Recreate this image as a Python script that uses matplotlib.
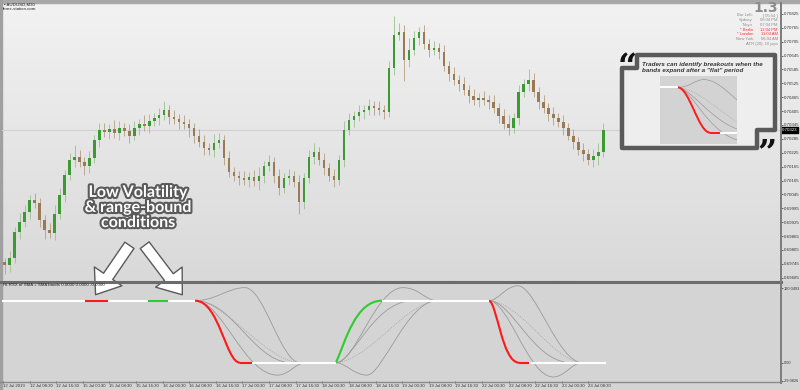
import matplotlib.pyplot as plt
import matplotlib.patheffects as pe
from matplotlib.colors import LinearSegmentedColormap
from matplotlib.path import Path
from matplotlib.patches import PathPatch, Rectangle, Polygon, FancyArrowPatch
import numpy as np

W, H = 800, 390

# AUDUSD M30 closes, one candle per 3 bars
closes = [0.69740, 0.69770, 0.69883, 0.69926, 0.69969, 0.70021, 0.70008, 0.69935, 0.69891, 0.69878,
          0.69961, 0.70043, 0.70129, 0.70194, 0.70207, 0.70185, 0.70168, 0.70202, 0.70280, 0.70323,
          0.70315, 0.70328, 0.70310, 0.70332, 0.70319, 0.70298, 0.70332, 0.70349, 0.70341, 0.70362,
          0.70375, 0.70388, 0.70410, 0.70380, 0.70371, 0.70358, 0.70349, 0.70332, 0.70298, 0.70272,
          0.70246, 0.70237, 0.70267, 0.70280, 0.70202, 0.70142, 0.70125, 0.70116, 0.70107, 0.70120,
          0.70103, 0.70125, 0.70168, 0.70185, 0.70125, 0.70073, 0.70116, 0.70125, 0.70099, 0.70012,
          0.70116, 0.70207, 0.70228, 0.70194, 0.70159, 0.70125, 0.70107, 0.70194, 0.70323, 0.70367,
          0.70384, 0.70401, 0.70410, 0.70427, 0.70418, 0.70410, 0.70401, 0.70591, 0.70734, 0.70747,
          0.70626, 0.70669, 0.70721, 0.70747, 0.70695, 0.70669, 0.70678, 0.70660, 0.70600, 0.70565,
          0.70539, 0.70522, 0.70496, 0.70470, 0.70453, 0.70462, 0.70453, 0.70444, 0.70418, 0.70384,
          0.70349, 0.70332, 0.70375, 0.70488, 0.70522, 0.70539, 0.70488, 0.70444, 0.70418, 0.70393,
          0.70375, 0.70358, 0.70332, 0.70298, 0.70272, 0.70237, 0.70220, 0.70194, 0.70211, 0.70228,
          0.70323]
first_open = 0.69752
# wicks in pips beyond the body
wick_up = [2, 3, 2, 4, 3, 2, 3, 2, 2, 3, 4, 3, 2, 3, 5, 3, 2, 3, 2, 3,
           3, 2, 4, 3, 2, 3, 3, 2, 4, 3, 2, 3, 4, 2, 3, 2, 3, 2, 2, 3,
           3, 2, 4, 3, 2, 3, 2, 2, 3, 2, 3, 4, 2, 3, 2, 3, 2, 3, 2, 3,
           2, 3, 4, 2, 3, 2, 3, 2, 4, 3, 2, 3, 2, 3, 2, 3, 2, 3, 8, 4,
           3, 5, 3, 2, 3, 2, 3, 2, 3, 2, 3, 2, 3, 2, 3, 2, 3, 2, 3, 2,
           3, 4, 2, 3, 2, 5, 3, 2, 3, 2, 3, 2, 3, 2, 3, 2, 3, 2, 3, 4, 3]
wick_dn = [4, 3, 2, 3, 2, 3, 2, 3, 4, 2, 3, 2, 3, 2, 3, 2, 4, 3, 2, 3,
           2, 3, 2, 3, 2, 3, 2, 3, 2, 3, 2, 3, 2, 3, 2, 3, 2, 4, 3, 2,
           3, 2, 3, 2, 3, 2, 2, 3, 2, 3, 2, 4, 3, 2, 3, 3, 2, 3, 2, 5,
           3, 2, 3, 2, 3, 2, 3, 2, 3, 2, 3, 2, 3, 2, 3, 2, 3, 2, 3, 2,
           9, 3, 2, 3, 2, 3, 2, 3, 2, 3, 2, 3, 2, 3, 2, 3, 2, 3, 2, 3,
           2, 3, 2, 3, 2, 3, 2, 3, 2, 3, 3, 2, 3, 2, 3, 2, 3, 2, 3, 4, 2]

price_ticks = [0.70825, 0.70765, 0.70705, 0.70645, 0.70585, 0.70525, 0.70465, 0.70405,
               0.70345, 0.70285, 0.70225, 0.70165, 0.70105, 0.70045, 0.69985, 0.69925,
               0.69865, 0.69805, 0.69745, 0.69685]
time_labels = ['12 Jul 2019', '12 Jul 08:30', '12 Jul 16:30', '15 Jul 00:30', '15 Jul 08:30',
               '15 Jul 16:30', '16 Jul 00:30', '16 Jul 08:30', '16 Jul 16:30', '17 Jul 00:30',
               '17 Jul 08:30', '17 Jul 16:30', '18 Jul 00:30', '18 Jul 08:30', '18 Jul 16:30',
               '19 Jul 00:30', '19 Jul 08:30', '19 Jul 16:30', '22 Jul 00:30', '22 Jul 08:30',
               '22 Jul 16:30', '23 Jul 00:30', '23 Jul 08:30']
ind_ticks = [120.0493, 0.0, -29.0826]
ind_tick_labels = ['120.0493', '0.00', '-29.0826']

# indicator: flat pieces (x from, x to, level) in bars
flat_white = [(-1, 115.5, 100), (149.7, 200.2, 0), (227.9, 292.2, 100), (316.3, 362.6, 0)]
flat_red = [(49.3, 63.1, 100), (142.5, 149.7, 0), (310.3, 316.3, 0)]
flat_green = [(87.2, 99.2, 100)]
# indicator: curved pieces as bezier control points (bar, value)
red_curves = [[(115.5, 100), (130, 100), (134, 0), (142.5, 0)],
              [(292.2, 100), (297, 98), (300, 0), (310.3, 0)]]
green_curves = [[(200.2, 0), (206, 35), (212, 100), (227.9, 100)]]
band_solid = [
    [(115.5, 100), (128, 100), (135, 121), (145.5, 121), (157, 121), (167, 0), (178.6, 0)],
    [(115.5, 100), (132, 100), (145, -20), (165, -20), (172, -20), (176, 0), (182, 0)],
    [(115.5, 100), (138, 100), (150, 5), (172, 0)],
    [(200.2, 0), (212, 0), (224, 121), (240.5, 121), (250, 121), (254, 100), (261, 100)],
    [(200.2, 0), (206, 0), (211, -20), (218.9, -20), (228, -20), (243, 100), (261, 100)],
    [(200.2, 0), (210, 0), (222, 95), (245, 100)],
    [(292.2, 100), (298, 100), (302, 124), (309.7, 124), (320, 124), (334, 0), (348.2, 0)],
    [(292.2, 100), (304, 100), (316, -23), (330.7, -23), (338, -23), (342, 0), (348.2, 0)],
    [(292.2, 100), (306, 100), (318, 5), (340, 0)],
]
band_dotted = [
    [(115.5, 100), (135, 98), (158, 2), (178.6, 0)],
    [(200.2, 0), (220, 3), (242, 97), (261, 100)],
    [(292.2, 100), (312, 97), (330, 3), (348.2, 0)],
]

# small example picture inside the call-out
mini_white = [(0, 23, 100), (78, 100, 0)]
mini_red_flat = [(65, 78, 0)]
mini_red = [(23, 100), (38, 100), (50, 0), (65, 0)]
mini_grey = [[(23, 100), (40, 100), (45, 118), (58, 117), (72, 116), (85, 95), (100, 72)],
             [(23, 100), (40, 98), (65, 30), (100, 8)],
             [(23, 100), (40, 100), (60, 5), (100, -16)]]
mini_dotted = [[(23, 100), (50, 95), (75, 50), (100, 24)]]

info_rows = [('Bar Left:', '[ 05:54 ]', '#8c8c8c'), ('Sydney', '08:04 PM', '#8c8c8c'),
             ('Tokyo', '07:04 PM', '#8c8c8c'), ('* Berlin', '12:04 PM', '#ff3030'),
             ('* London', '11:04 AM', '#ff3030'), ('New York', '06:04 AM', '#8c8c8c')]

small = ['Liberation Sans', 'DejaVu Sans']


def rect(x0, y0, x1, y1):
    return [x0 / W, 1 - y1 / H, (x1 - x0) / W, (y1 - y0) / H]


def bezier(ax, pts, **kw):
    codes = [Path.MOVETO] + [Path.CURVE4] * (len(pts) - 1)
    ax.add_patch(PathPatch(Path(pts, codes), fill=False, **kw))


fig = plt.figure(figsize=(W / 100, H / 100), dpi=100)
fig.patch.set_facecolor('#d5d5d5')

# background: gradient for price window, flat grey for indicator window
bg = fig.add_axes([0, 0, 1, 1], zorder=0)
grad = np.linspace(0, 1, 256)[:, None]
cmap = LinearSegmentedColormap.from_list('bg', ['#f2f2f2', '#d9d9d9'])
bg.imshow(grad, extent=[0, W, 281, 3], cmap=cmap, aspect='auto')
bg.add_patch(Rectangle((0, 281), W, H - 281, color='#d4d4d4'))
bg.add_patch(Rectangle((0, 0), W, 3, color='#a8a8a8'))
bg.add_patch(Rectangle((0, 0), 2, H, color='#a0a0a0'))
bg.set_xlim(0, W)
bg.set_ylim(H, 0)
bg.axis('off')

xlim = (-0.6, 467.8)

# price window
ax = fig.add_axes(rect(2, 3, 781, 281), zorder=1)
ax.set_facecolor('none')
bars = np.arange(len(closes)) * 3 + 1
c = np.array(closes)
o = np.array([first_open] + closes[:-1])
hi = np.maximum(o, c) + np.array(wick_up) / 10000
lo = np.minimum(o, c) - np.array(wick_dn) / 10000
up = c >= o
ax.axhline(closes[-1], color='#d0d0d0', lw=0.8, zorder=0)
ax.vlines(bars, lo, hi, colors=np.where(up, '#a6c49c', '#bba88f'), lw=0.7, zorder=1)
ax.bar(bars, c - o, bottom=o, width=1.4, color=np.where(up, '#3d9a32', '#9a7a55'), zorder=2)
ax.set_xlim(*xlim)
ax.set_ylim(0.69671, 0.70872)
ax.set_xticks([])
ax.yaxis.tick_right()
ax.set_yticks(price_ticks)
ax.set_yticklabels([f'{p:.5f}' for p in price_ticks], family=small)
ax.tick_params(axis='y', labelsize=3.2, length=1.5, width=0.5, pad=0.6, colors='#333333')
for s in ax.spines.values():
    s.set_visible(False)
ax.text(1.001, closes[-1], f'{closes[-1]:.5f}', transform=ax.get_yaxis_transform(),
        fontsize=3.2, family=small, color='white', va='center', ha='left',
        bbox=dict(boxstyle='square,pad=0.15', fc='black', ec='black'))

# indicator window
ax2 = fig.add_axes(rect(2, 283, 781, 381), zorder=1)
ax2.set_facecolor('none')
for pts in band_solid:
    bezier(ax2, pts, ec='#9a9a9a', lw=0.6)
for pts in band_dotted:
    bezier(ax2, pts, ec='#a0a0a0', lw=0.6, ls=(0, (1, 1.5)))
for x0, x1, v in flat_white:
    ax2.plot([x0, x1], [v, v], color='white', lw=1.5, solid_capstyle='butt')
for x0, x1, v in flat_red:
    ax2.plot([x0, x1], [v, v], color='#ff1a1a', lw=1.5, solid_capstyle='butt')
for x0, x1, v in flat_green:
    ax2.plot([x0, x1], [v, v], color='#2ecc2e', lw=1.5, solid_capstyle='butt')
for pts in red_curves:
    bezier(ax2, pts, ec='#ff1a1a', lw=1.5)
for pts in green_curves:
    bezier(ax2, pts, ec='#2ecc2e', lw=1.5)
ax2.set_xlim(*xlim)
ax2.set_ylim(-29.5, 128.5)
ax2.yaxis.tick_right()
ax2.set_yticks(ind_ticks)
ax2.set_yticklabels(ind_tick_labels, family=small)
ax2.set_xticks(np.arange(len(time_labels)) * 16)
ax2.set_xticklabels(time_labels, family=small)
for lab in ax2.get_xticklabels():
    lab.set_ha('left')
ax2.tick_params(labelsize=3.1, length=1.5, width=0.5, pad=0.8, colors='#333333')
ax2.tick_params(axis='y', labelsize=2.8, pad=0.5)
for s in ax2.spines.values():
    s.set_visible(False)

# overlay in pixel coordinates for frames and notes
ov = fig.add_axes([0, 0, 1, 1], zorder=5)
ov.set_xlim(0, W)
ov.set_ylim(H, 0)
ov.axis('off')
ov.plot([0, 781], [281.5, 281.5], color='#6c6c6c', lw=2.2)
ov.plot([781, 781], [3, 383], color='#7c7c7c', lw=1.4)
ov.plot([0, 781], [381.5, 381.5], color='#8a8a8a', lw=1.0)

ov.text(4, 4.5, '\u25aa AUDUSD,M30', fontsize=3.2, family=small, color='#222222', va='center')
ov.text(2.5, 8.5, 'forex-station.com', fontsize=3.2, family=small, color='#222222', va='center')
ov.text(3, 285.5, 'Hi-RSX of SMA + SMA bands 0.0000 0.0000 -0.0000', fontsize=3.2,
        family=small, color='#222222', va='center')

ov.text(778, 8, '1.3', fontsize=10, color='#8c8c8c', ha='right', va='center', fontweight='bold')
for k, (lbl, val, col) in enumerate(info_rows):
    y = 15.5 + 4.7 * k
    ov.text(753, y, lbl, fontsize=3.0, family=small, color=col, ha='right', va='center')
    ov.text(778, y, val, fontsize=3.0, family=small, color=col, ha='right', va='center')
ov.text(778, 43.7, 'ATR (20): 10 pips', fontsize=3.0, family=small, color='#8c8c8c',
        ha='right', va='center')

halo = [pe.withStroke(linewidth=3, foreground='#5a5a5a')]
ov.text(138, 208, 'Low Volatility\n& range-bound\nconditions', fontsize=11.5,
        family=['Lato', 'DejaVu Sans'], fontweight='bold', color='white', ha='center',
        va='center', linespacing=1.1, path_effects=halo)
for tail, tip in [((131, 243), (94, 297)), ((143, 243), (184, 297))]:
    ov.add_patch(FancyArrowPatch(tail, tip,
                                 arrowstyle='simple,head_length=0.8,head_width=1.2,tail_width=0.4',
                                 mutation_scale=20, fc='white', ec='#5a5a5a', lw=1.0))

box = [(637, 55), (775, 55), (775, 130), (757, 130), (757, 148), (622, 148), (622, 68), (637, 68)]
ov.add_patch(Polygon(box, closed=True, fc='#eeeeee', ec='#5a5a5a', lw=3.2, joinstyle='round'))
ov.text(627, 68, '\u201c', fontsize=24, family='DejaVu Serif', fontweight='bold',
        color='#111111', ha='center', va='center')
ov.text(767, 154, '\u201d', fontsize=24, family='DejaVu Serif', fontweight='bold',
        color='#111111', ha='center', va='center')
ov.text(642, 67.5, 'Traders can identify breakouts when the\nbands expand after a "flat" period',
        fontsize=4.5, family=small, fontweight='bold', style='italic', color='#333333',
        ha='left', va='center', linespacing=1.25)

mini = fig.add_axes(rect(660, 76, 737, 144), zorder=6)
mini.set_facecolor('#d3d3d3')
for pts in mini_grey:
    bezier(mini, pts, ec='#9a9a9a', lw=0.5)
for pts in mini_dotted:
    bezier(mini, pts, ec='#a0a0a0', lw=0.5, ls=(0, (1, 1.5)))
for x0, x1, v in mini_white:
    mini.plot([x0, x1], [v, v], color='white', lw=1.4, solid_capstyle='butt')
for x0, x1, v in mini_red_flat:
    mini.plot([x0, x1], [v, v], color='#ff1a1a', lw=1.4, solid_capstyle='butt')
bezier(mini, mini_red, ec='#ff1a1a', lw=1.4)
mini.set_xlim(0, 100)
mini.set_ylim(-25, 125)
mini.set_xticks([])
mini.set_yticks([])
for s in mini.spines.values():
    s.set_visible(False)

fig.savefig('out.png', dpi=100)
